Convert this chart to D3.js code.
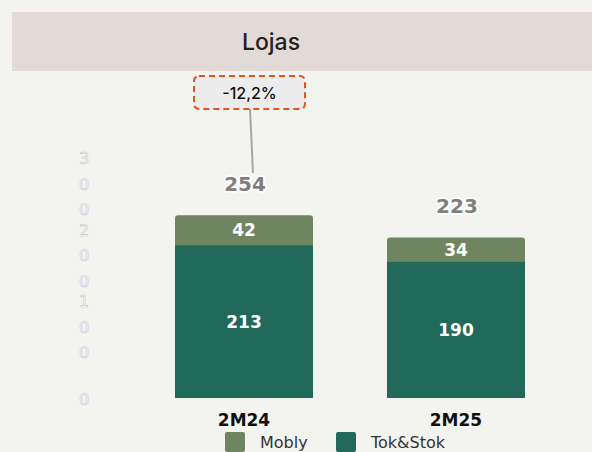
<!DOCTYPE html>
<html>
<head>
<meta charset="utf-8">
<script src="https://cdn.jsdelivr.net/npm/d3@7"></script>
<style>
  body { margin: 0; background: #f3f3ef; }
  svg { display: block; }
</style>
</head>
<body>
<svg id="chart" width="592" height="452"></svg>
<script>
// data
const categories = ["2M24", "2M25"];
const mobly = [42, 34];
const tokstok = [213, 190];
const totals = [254, 223];
const yTicks = [0, 100, 200, 300];
const seriesNames = ["Mobly", "Tok&Stok"];
const changeLabel = "-12,2%";

const colors = { "Mobly": "#6f8560", "Tok&Stok": "#216a5a" };

const svg = d3.select("#chart");

// background + title band
svg.append("rect").attr("width", 592).attr("height", 452).attr("fill", "#f3f3ef");
svg.append("rect").attr("x", 12).attr("y", 12).attr("width", 580).attr("height", 59).attr("fill", "#e2dad7");
svg.append("text")
    .attr("x", 271).attr("y", 50)
    .attr("text-anchor", "middle")
    .style("font-family", "Inter, 'Open Sans', sans-serif")
    .style("font-size", "23px")
    .style("font-weight", "500")
    .attr("fill", "#222")
    .text("Lojas");

const baseY = 398;
const yScale = d3.scaleLinear().domain([0, 300]).range([baseY, baseY - 215]);
const xScale = d3.scaleBand().domain(categories).range([175, 525]).paddingInner(0.349).paddingOuter(0);

// faint y axis with vertically stacked digits
const yAxis = svg.append("g")
    .attr("class", "yAxis")
    .attr("transform", "translate(84,0)")
    .call(d3.axisLeft(yScale).tickValues(yTicks).tickSize(0).tickFormat(""));
yAxis.select(".domain").remove();
yAxis.selectAll(".tick").each(function(d) {
    const chars = String(d).split("");
    const g = d3.select(this);
    chars.forEach(function(c, i) {
        g.append("text")
            .attr("x", 0)
            .attr("y", (i - (chars.length - 1) / 2) * 25.5 + 6)
            .attr("text-anchor", "middle")
            .style("font-family", "'DejaVu Sans', sans-serif")
            .style("font-size", "16px")
            .attr("fill", "#ffffff")
            .attr("stroke", "#c4c4c4")
            .attr("stroke-width", 0.6)
            .text(c);
    });
});

const rows = categories.map(function(c, i) {
    return { cat: c, mobly: mobly[i], tokstok: tokstok[i], total: totals[i] };
});
const bw = xScale.bandwidth();

// whole bar in Mobly colour (rounded top), then Tok&Stok over the bottom part
svg.selectAll("rect.top").data(rows).join("rect")
    .attr("class", "top")
    .attr("x", d => xScale(d.cat))
    .attr("y", d => yScale(d.mobly + d.tokstok))
    .attr("width", bw)
    .attr("height", d => baseY - yScale(d.mobly + d.tokstok))
    .attr("rx", 3)
    .attr("fill", colors["Mobly"]);

svg.selectAll("rect.bottom").data(rows).join("rect")
    .attr("class", "bottom")
    .attr("x", d => xScale(d.cat))
    .attr("y", d => yScale(d.tokstok))
    .attr("width", bw)
    .attr("height", d => baseY - yScale(d.tokstok))
    .attr("fill", colors["Tok&Stok"]);

const valFont = "'DejaVu Sans', Verdana, sans-serif";

svg.selectAll("text.mob").data(rows).join("text")
    .attr("class", "mob")
    .attr("x", d => xScale(d.cat) + bw / 2)
    .attr("y", d => (yScale(d.mobly + d.tokstok) + yScale(d.tokstok)) / 2 + 6)
    .attr("text-anchor", "middle")
    .style("font-family", valFont).style("font-size", "17px").style("font-weight", "bold")
    .attr("fill", "#fff")
    .text(d => d.mobly);

svg.selectAll("text.tok").data(rows).join("text")
    .attr("class", "tok")
    .attr("x", d => xScale(d.cat) + bw / 2)
    .attr("y", d => (yScale(d.tokstok) + baseY) / 2 + 6)
    .attr("text-anchor", "middle")
    .style("font-family", valFont).style("font-size", "17px").style("font-weight", "bold")
    .attr("fill", "#fff")
    .text(d => d.tokstok);

// totals with white halo
svg.selectAll("text.total").data(rows).join("text")
    .attr("class", "total")
    .attr("x", d => xScale(d.cat) + bw / 2 + 1)
    .attr("y", d => yScale(d.total) - 25)
    .attr("text-anchor", "middle")
    .style("font-family", valFont).style("font-size", "20px").style("font-weight", "bold")
    .attr("fill", "#7f7f7f")
    .attr("stroke", "#ffffff").attr("stroke-width", 3.5).attr("stroke-linejoin", "round")
    .attr("paint-order", "stroke")
    .text(d => d.total);

// category labels
svg.selectAll("text.cat").data(rows).join("text")
    .attr("class", "cat")
    .attr("x", d => xScale(d.cat) + bw / 2)
    .attr("y", 426)
    .attr("text-anchor", "middle")
    .style("font-family", valFont).style("font-size", "17px").style("font-weight", "bold")
    .attr("fill", "#111")
    .text(d => d.cat);

// change annotation
svg.append("line")
    .attr("x1", 250).attr("y1", 109)
    .attr("x2", 253).attr("y2", yScale(totals[0]) - 43)
    .attr("stroke", "#a6a6a6").attr("stroke-width", 2);
svg.append("rect")
    .attr("x", 194).attr("y", 76).attr("width", 111).attr("height", 33)
    .attr("rx", 5)
    .attr("fill", "#ececec")
    .attr("stroke", "#e0571a").attr("stroke-width", 2)
    .attr("stroke-dasharray", "6,4");
svg.append("text")
    .attr("x", 249.5).attr("y", 98.5)
    .attr("text-anchor", "middle")
    .style("font-family", "Inter, 'Open Sans', sans-serif").style("font-size", "16px")
    .style("font-weight", "500")
    .attr("fill", "#111")
    .text(changeLabel);

// legend
const legend = svg.append("g");
const legX = [225, 336];
seriesNames.forEach(function(s, i) {
    legend.append("rect")
        .attr("x", legX[i]).attr("y", 432).attr("width", 20).attr("height", 20)
        .attr("rx", 2)
        .attr("fill", colors[s]);
    legend.append("text")
        .attr("x", legX[i] + 35).attr("y", 448)
        .style("font-family", "'DejaVu Sans', Verdana, sans-serif").style("font-size", "16px")
        .attr("fill", "#333")
        .text(s);
});
</script>
</body>
</html>
